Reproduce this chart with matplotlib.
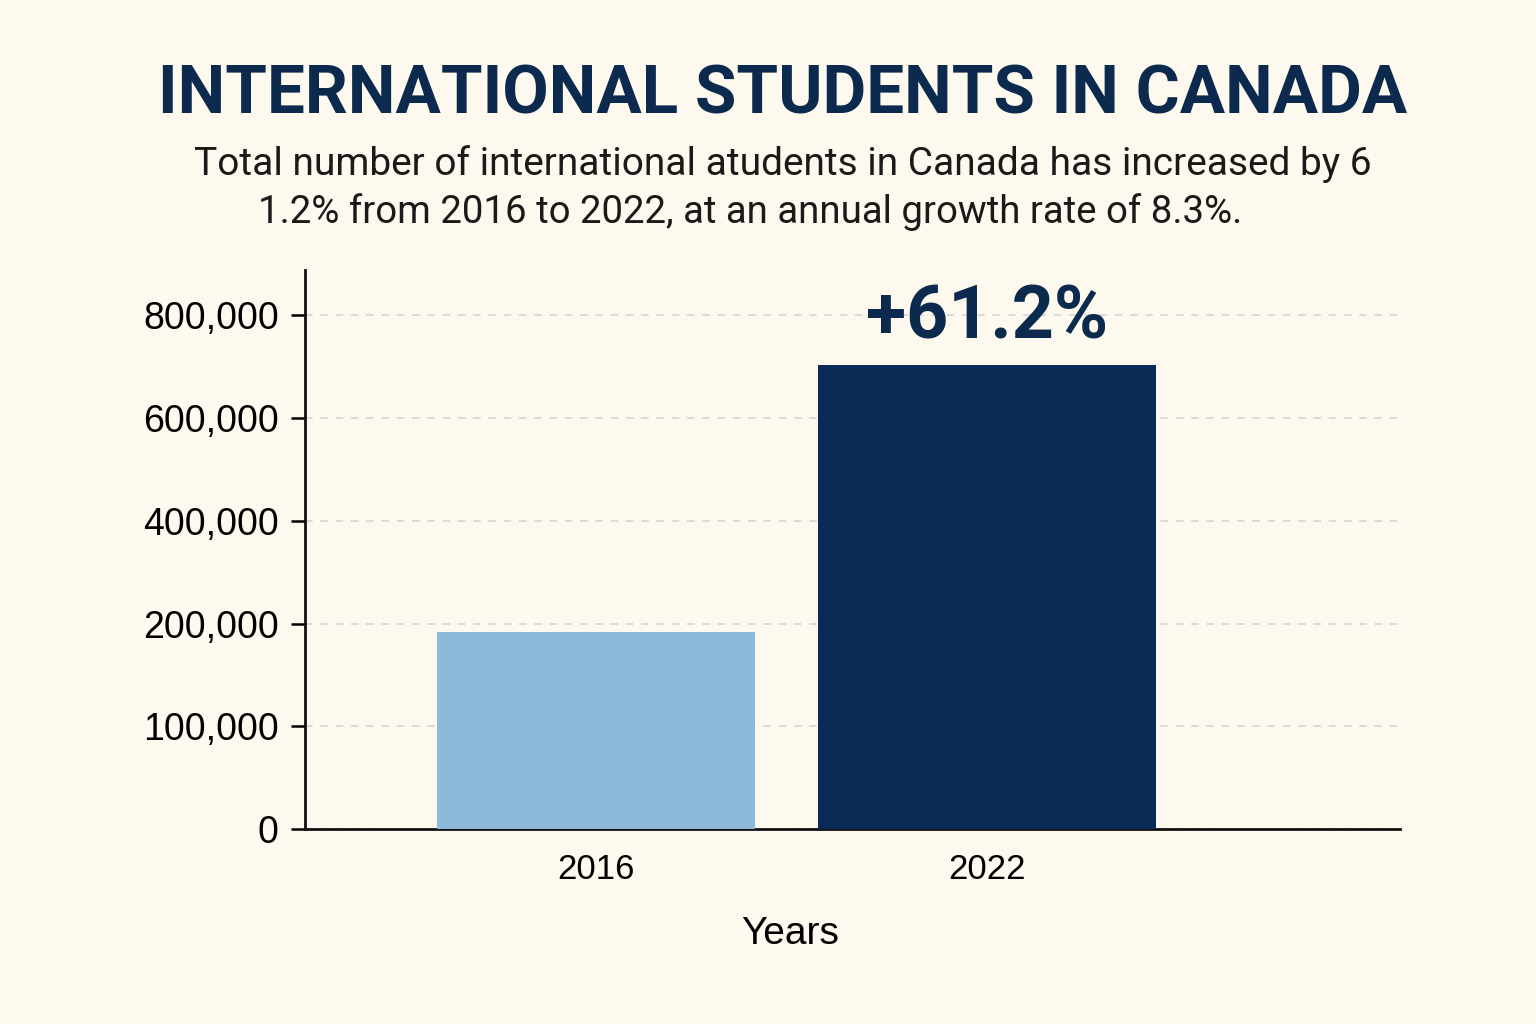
import numpy as np
import matplotlib.pyplot as plt

# data
years = ['2016', '2022']
students = [192000, 704000]
bar_colors = ['#8DB9DA', '#0A2B55']
y_ticks = [0, 100000, 200000, 400000, 600000, 800000]
y_tick_labels = ['0', '100,000', '200,000', '400,000', '600,000', '800,000']
change_label = '+61.2%'

title = 'INTERNATIONAL STUDENTS IN CANADA'
sub1 = 'Total number of international atudents in Canada has increased by 6'
sub2 = '1.2% from 2016 to 2022, at an annual growth rate of 8.3%.'

bg = '#FEF9EE'
navy = '#0B2A4E'

# the value axis is spaced by tick, not linearly
scale_vals = [0, 100000, 200000, 400000, 600000, 800000, 1000000]
scale_pos = [0, 1, 2, 3, 4, 5, 6]

def fwd(v):
    return np.interp(v, scale_vals, scale_pos)

def inv(p):
    return np.interp(p, scale_pos, scale_vals)

fig = plt.figure(figsize=(15.36, 10.24), dpi=100, facecolor=bg)
ax = fig.add_axes([0.1986, 0.1904, 0.7129, 0.5459])
ax.set_facecolor(bg)
ax.set_yscale('function', functions=(fwd, inv))

x = np.arange(len(years))
ax.bar(x, students, width=[0.813, 0.864], color=bar_colors, zorder=3)

ax.set_xlim(-0.744, 2.056)
ax.set_ylim(0, 888000)
ax.set_xticks(x)
ax.set_xticklabels(years, fontsize=25, family='Liberation Sans')
ax.set_yticks(y_ticks)
ax.set_yticklabels(y_tick_labels, fontsize=27, family='Liberation Sans')
ax.minorticks_off()
ax.tick_params(axis='x', length=0, pad=17)
ax.tick_params(axis='y', length=10, width=1.8, pad=9)

ax.grid(axis='y', linestyle=(0, (5, 5)), color='#D3D3D3', linewidth=1.1, zorder=0)
for s in ['top', 'right']:
    ax.spines[s].set_visible(False)
for s in ['left', 'bottom']:
    ax.spines[s].set_linewidth(2)
    ax.spines[s].set_color('#111111')

ax.set_xlabel('Years', fontsize=28, family='Liberation Sans')
ax.xaxis.set_label_coords(0.443, -0.155)

ax.annotate(change_label, (x[1], students[1]), xytext=(0, 8),
            textcoords='offset points', ha='center', va='bottom',
            fontsize=53, fontweight='bold', family='Roboto', color=navy)

fig.text(0.5098, 0.907, title, ha='center', va='center', fontsize=48.5,
         fontweight='bold', family='Roboto', color=navy)
fig.text(0.5098, 0.840, sub1, ha='center', va='center', fontsize=28,
         family='Roboto', color='#1a1a1a')
fig.text(0.168, 0.793, sub2, ha='left', va='center', fontsize=27.6,
         family='Roboto', color='#1a1a1a')

fig.savefig('out.png', dpi=100, facecolor=bg)
